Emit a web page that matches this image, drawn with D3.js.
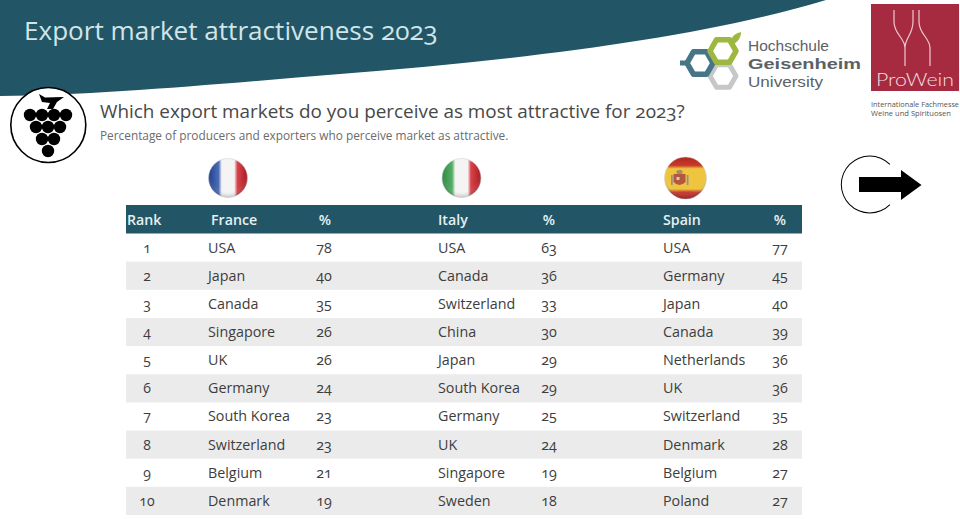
<!DOCTYPE html>
<html><head><meta charset="utf-8">
<script src="https://cdn.jsdelivr.net/npm/d3@7"></script>
<style>
html,body{margin:0;padding:0;background:#fff;overflow:hidden}
svg{display:block}
text{font-family:"Open Sans",Lato,sans-serif;font-variant-numeric:oldstyle-nums;font-feature-settings:"onum" 1}
</style></head><body>
<svg id="c" width="960" height="519" viewBox="0 0 960 519"></svg>
<script>
const title = "Export market attractiveness 2023";
const question = "Which export markets do you perceive as most attractive for 2023?";
const subtitle = "Percentage of producers and exporters who perceive market as attractive.";
const ranks = [1,2,3,4,5,6,7,8,9,10];
const countries = ["France","Italy","Spain"];
const franceMarkets = ["USA","Japan","Canada","Singapore","UK","Germany","South Korea","Switzerland","Belgium","Denmark"];
const franceValues = [78,40,35,26,26,24,23,23,21,19];
const italyMarkets = ["USA","Canada","Switzerland","China","Japan","South Korea","Germany","UK","Singapore","Sweden"];
const italyValues = [63,36,33,30,29,29,25,24,19,18];
const spainMarkets = ["USA","Germany","Japan","Canada","Netherlands","UK","Switzerland","Denmark","Belgium","Poland"];
const spainValues = [77,45,40,39,36,36,35,28,27,27];

const TEAL="#225666", INK="#3d3d3d", GREY="#ebebeb";
const svg=d3.select("#c");
const defs=svg.append("defs");
const soft=defs.append("filter").attr("id","soft").attr("x","-30%").attr("y","-30%").attr("width","160%").attr("height","160%");
soft.append("feGaussianBlur").attr("stdDeviation",0.45);

// Banner
svg.append("path").attr("d","M0,0 L826,0 C700,38 520,60 340,74 C220,84 100,95 0,96 Z").attr("fill",TEAL);
svg.append("text").attr("x",24).attr("y",39.5).attr("font-size",26.1).attr("fill","#d3e4e8").text(title);

// Grape icon
const icon=svg.append("g").attr("filter","url(#soft)");
icon.append("circle").attr("cx",48.3).attr("cy",125).attr("r",37.5).attr("fill","#fff").attr("stroke","#000").attr("stroke-width",1.6);
[[30,115],[42,115],[54,115],[66,115],[36,127],[48,127],[60,127],[42,139],[54,139],[48,151]].forEach(p=>icon.append("circle").attr("cx",p[0]).attr("cy",p[1]).attr("r",6.2).attr("fill","#000"));
icon.append("path").attr("d","M39,94 L45,97.5 L64,97 L57,102 L53,109 L47,109 L50,103 L42,102 Z").attr("fill","#000");

// Headline
svg.append("text").attr("x",100).attr("y",118).attr("font-size",18.9).attr("fill","#484848").text(question);
svg.append("text").attr("x",100).attr("y",140).attr("font-size",11.83).attr("fill","#6b6b6b").text(subtitle);

// Logos
const hs=svg.append("g").attr("filter","url(#soft)");
const hex=(cx,cy,r)=>d3.range(6).map(i=>[cx+r*Math.cos(i*Math.PI/3),cy+r*Math.sin(i*Math.PI/3)].join(",")).join(" ");
hs.append("polygon").attr("points",hex(723,76,13)).attr("fill","none").attr("stroke","#c5c7c8").attr("stroke-width",5).attr("stroke-linejoin","round");
hs.append("polygon").attr("points",hex(700,63,13)).attr("fill","none").attr("stroke","#477488").attr("stroke-width",5.5).attr("stroke-linejoin","round");
hs.append("rect").attr("x",680).attr("y",60.5).attr("width",9).attr("height",5).attr("fill","#477488");
hs.append("polygon").attr("points",hex(723,51,13)).attr("fill","none").attr("stroke","#9db73f").attr("stroke-width",5.5).attr("stroke-linejoin","round");
hs.append("path").attr("d","M730,42 C732,35 737,33 741,32 C741,38 737,43 733,44 Z").attr("fill","#9db73f");
const hl=svg.append("g").attr("style",'font-family:"Liberation Sans",sans-serif');
hl.append("text").attr("x",748).attr("y",50.5).attr("font-size",14.8).attr("fill","#5b6266").attr("style",'font-family:"Liberation Sans",sans-serif').attr("textLength",81).attr("lengthAdjust","spacingAndGlyphs").text("Hochschule");
hl.append("text").attr("x",748).attr("y",69).attr("font-size",15.4).attr("font-weight",700).attr("fill","#5b6266").attr("style",'font-family:"Liberation Sans",sans-serif').attr("textLength",113).attr("lengthAdjust","spacingAndGlyphs").text("Geisenheim");
hl.append("text").attr("x",748).attr("y",87).attr("font-size",14.8).attr("fill","#5b6266").attr("style",'font-family:"Liberation Sans",sans-serif').attr("textLength",75).attr("lengthAdjust","spacingAndGlyphs").text("University");

svg.append("rect").attr("x",871).attr("y",4).attr("width",88).attr("height",87).attr("fill","#a72b40");
svg.append("path").attr("d","M894,10 V22 C894,34 905,38 905,48 V66 M913,10 V22 C913,34 905,38 905,48 M919,10 V22 C919,34 930,38 930,48 V66").attr("fill","none").attr("stroke","#eec9cf").attr("stroke-width",1.2);
svg.append("text").attr("x",915).attr("y",86).attr("text-anchor","middle").attr("font-size",17).attr("font-weight",300).attr("fill","#f3dfe2").attr("style",'font-family:Lato,sans-serif').attr("textLength",78).attr("lengthAdjust","spacingAndGlyphs").text("ProWein");
svg.append("text").attr("x",871).attr("y",107).attr("font-size",7.1).attr("fill","#555").attr("textLength",88).attr("lengthAdjust","spacingAndGlyphs").text("Internationale Fachmesse");
svg.append("text").attr("x",871).attr("y",116).attr("font-size",7.1).attr("fill","#555").attr("textLength",80).attr("lengthAdjust","spacingAndGlyphs").text("Weine und Spirituosen");

// Arrow
svg.append("path").attr("d",d3.arc()({innerRadius:28,outerRadius:29,startAngle:Math.PI*0.75,endAngle:Math.PI*2.25})).attr("transform","translate(869.8,184.5)").attr("fill","#000");
svg.append("path").attr("d","M859,177 H901 V170 L921.5,185 L901,200 V192 H859 Z").attr("fill","#000");

// Table scales
const y=d3.scaleBand().domain(ranks).range([233.5,515]).padding(0);
const marketX=d3.scaleOrdinal().domain(countries).range([208,438,663]);
const headX=d3.scaleOrdinal().domain(countries).range([211,438,663]);
const pctX=d3.scaleOrdinal().domain(countries).range([325,549,780]);
const valX=d3.scaleOrdinal().domain(countries).range([324,549,780]);
const flagX=d3.scaleOrdinal().domain(countries).range([228,461.5,685.5]);

svg.append("rect").attr("x",126).attr("y",205).attr("width",676).attr("height",28.5).attr("fill",TEAL);
svg.selectAll("rect.band").data(ranks.filter(r=>r%2===0)).join("rect").attr("class","band")
  .attr("x",126).attr("width",676).attr("y",d=>y(d)).attr("height",y.bandwidth()).attr("fill",GREY);

const hdr=svg.append("g").attr("font-size",14.2).attr("font-weight",600).attr("fill","#e6f0f2");
hdr.append("text").attr("x",127).attr("y",225).text("Rank");
countries.forEach(c=>{
  hdr.append("text").attr("x",headX(c)).attr("y",225).text(c);
  hdr.append("text").attr("x",pctX(c)).attr("y",225).attr("text-anchor","middle").text("%");
});

svg.selectAll("text.rank").data(ranks).join("text").attr("class","rank")
  .attr("x",147).attr("y",d=>y(d)+y.bandwidth()/2+5).attr("text-anchor","middle").attr("font-size",14).attr("fill",INK).text(d=>d);

const cols=[[franceMarkets,franceValues],[italyMarkets,italyValues],[spainMarkets,spainValues]];
countries.forEach((c,i)=>{
  const g=svg.append("g").attr("font-size",14.3).attr("fill",INK);
  g.selectAll("text.m").data(cols[i][0]).join("text").attr("class","m")
    .attr("x",marketX(c)).attr("y",(d,k)=>y(ranks[k])+y.bandwidth()/2+5).text(d=>d);
  g.selectAll("text.v").data(cols[i][1]).join("text").attr("class","v")
    .attr("x",valX(c)).attr("y",(d,k)=>y(ranks[k])+y.bandwidth()/2+5).attr("text-anchor","middle").text(d=>d);
});

// Flags
function grad(id,stops){const g=defs.append("linearGradient").attr("id",id);stops.forEach(s=>g.append("stop").attr("offset",s[0]).attr("stop-color",s[1]));}
grad("fr",[[0,"#1f3f8f"],[.26,"#4c6db5"],[.34,"#f4f4f4"],[.66,"#f4f4f4"],[.74,"#d9434b"],[1,"#a81c24"]]);
grad("it",[[0,"#2c8a42"],[.26,"#57ad68"],[.34,"#f4f4f4"],[.66,"#f4f4f4"],[.74,"#d9434b"],[1,"#a81c24"]]);
const es=defs.append("linearGradient").attr("id","es").attr("x1",0).attr("x2",0).attr("y1",0).attr("y2",1);
[[0,"#b3261e"],[.2,"#c8392b"],[.28,"#efc53f"],[.76,"#efc53f"],[.84,"#c8392b"],[1,"#a81c24"]].forEach(s=>es.append("stop").attr("offset",s[0]).attr("stop-color",s[1]));
const shade=defs.append("radialGradient").attr("id","sh").attr("cy",.38).attr("r",.66);
[[0,"#fff",.0],[.68,"#fff",0],[1,"#000",.3]].forEach(s=>shade.append("stop").attr("offset",s[0]).attr("stop-color",s[1]).attr("stop-opacity",s[2]));
const fid=["fr","it","es"], fr=[19.5,19.5,21], fy=[178,178,178];
countries.forEach((c,i)=>{
  const g=svg.append("g").attr("filter","url(#soft)");
  g.append("circle").attr("cx",flagX(c)).attr("cy",fy[i]).attr("r",fr[i]).attr("fill",`url(#${fid[i]})`).attr("stroke","#ccc").attr("stroke-width",.5);
  if(c==="Spain"){
    const cx=flagX(c);
    g.append("path").attr("d",`M${cx-12},174 h12 v8 q-6,6 -12,0 Z`).attr("fill","#b5573f");
    g.append("rect").attr("x",cx-9).attr("y",170).attr("width",6).attr("height",4).attr("rx",1.5).attr("fill","#a88f5a");
    g.append("rect").attr("x",cx-14.5).attr("y",175).attr("width",1.8).attr("height",10).attr("fill","#9d8f86");
    g.append("rect").attr("x",cx+1.2).attr("y",175).attr("width",1.8).attr("height",10).attr("fill","#9d8f86");
    g.append("rect").attr("x",cx-9).attr("y",177).attr("width",3).attr("height",3).attr("fill","#d9cbb0");
  }
  g.append("circle").attr("cx",flagX(c)).attr("cy",fy[i]).attr("r",fr[i]).attr("fill","url(#sh)");
});
</script></body></html>
